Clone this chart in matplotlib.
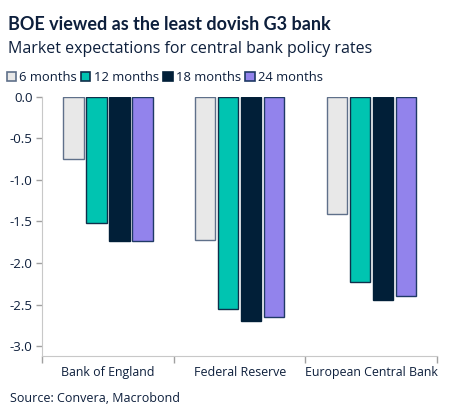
import numpy as np
import matplotlib.pyplot as plt
from matplotlib.patches import Patch

plt.rcParams['font.family'] = ['Open Sans', 'DejaVu Sans']

# data
banks = ['Bank of England', 'Federal Reserve', 'European Central Bank']
horizons = ['6 months', '12 months', '18 months', '24 months']
m6 = [-0.75, -1.72, -1.41]
m12 = [-1.52, -2.55, -2.23]
m18 = [-1.73, -2.70, -2.44]
m24 = [-1.73, -2.65, -2.40]
yticks = [0.0, -0.5, -1.0, -1.5, -2.0, -2.5, -3.0]

series = [m6, m12, m18, m24]
fills = ['#e8e8e8', '#00c4b1', '#011f38', '#9283ec']
edges = ['#5f708a', '#0f2f4a', '#011f38', '#1f3a66']
txt = '#0d1f3c'

fig = plt.figure(figsize=(4.53, 4.17), dpi=100)
ax = fig.add_axes([0.093, 0.146, 0.872, 0.622])

x = np.arange(len(banks))
w = 0.155
pitch = 0.175
for i, vals in enumerate(series):
    ax.bar(x + (i - 1.5) * pitch, vals, width=w, color=fills[i],
           edgecolor=edges[i], linewidth=1.0)

ax.set_xlim(-0.5, 2.5)
ax.set_ylim(-3.12, 0)
ax.set_yticks(yticks)
ax.set_yticklabels([f'{v:.1f}' for v in yticks])
ax.set_xticks(x)
ax.set_xticklabels(banks)
ax.set_xticks([-0.5, 0.5, 1.5, 2.5], minor=True)
ax.tick_params(axis='x', which='major', length=0, pad=7, labelsize=8.9, labelcolor=txt)
ax.tick_params(axis='x', which='minor', length=5, color='#a0a0a0', width=1)
ax.tick_params(axis='y', length=4, color='#a0a0a0', width=1, labelsize=9.5, labelcolor=txt, pad=3)

for s in ['top', 'right']:
    ax.spines[s].set_visible(False)
ax.spines['left'].set_color('#c8c8c8')
ax.spines['bottom'].set_color('#c8c8c8')

# titles
fig.text(0.018, 0.928, 'BOE viewed as the least dovish G3 bank', fontsize=13,
         fontweight='bold', color=txt, family=['Lato', 'DejaVu Sans'])
fig.text(0.018, 0.873, 'Market expectations for central bank policy rates',
         fontsize=11.5, color=txt)

handles = [Patch(facecolor=fills[i], edgecolor=edges[i], linewidth=1.2)
           for i in range(4)]
fig.legend(handles, horizons, loc='center left', bbox_to_anchor=(0.003, 0.815),
           ncol=4, frameon=False, fontsize=9.4, handlelength=0.7,
           handleheight=0.7, handletextpad=0.25, columnspacing=0.35,
           borderaxespad=0, labelcolor=txt)

fig.text(0.022, 0.035, 'Source: Convera, Macrobond', fontsize=9, color=txt)

fig.savefig('out.png', dpi=100)
